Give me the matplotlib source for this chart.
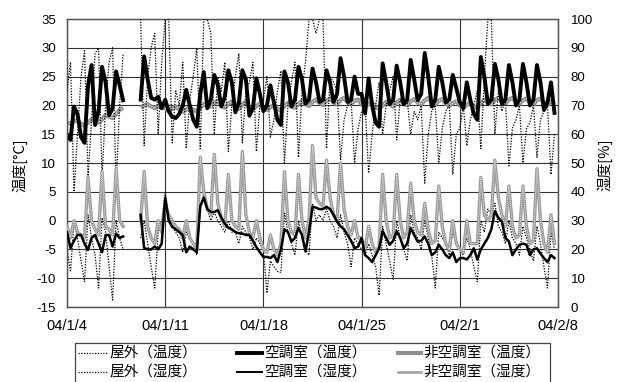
import numpy as np
import matplotlib

matplotlib.use("Agg")

import matplotlib.pyplot as plt
from matplotlib.lines import Line2D
from matplotlib.patches import Rectangle

nan = np.nan

# readings every 6 h (00, 06, 12, 18 h) from 2004-01-04, one row per day
# 屋外（温度） [°C]
outdoor_temp = [
    [-4.8, -8.9, -0.2, -3.0], [-7.0, -10.6, 1.0, -3.0], [-6.0, -11.7, 0.5, -2.0],
    [-8.0, -13.8, 0.0, -3.0], [-5.0, nan, nan, nan], [nan, -3.0, 0.0, -4.0],
    [-8.0, -11.7, -2.0, 0.0], [4.8, 1.0, -1.0, -2.0], [-3.0, -5.5, -2.0, -3.0],
    [-4.0, -6.0, 2.0, 4.8], [2.0, 0.0, 1.5, 0.0], [-1.0, -2.0, 0.0, -2.0],
    [-2.0, -4.0, -1.0, -2.0], [-3.0, -5.0, -3.0, -4.0], [-5.0, -12.6, -7.0, -8.0],
    [-8.8, -9.0, 1.3, -2.0], [-4.0, -6.0, 0.0, -3.0], [-5.0, -6.0, 3.0, 0.0],
    [1.0, 0.0, 2.0, 0.0], [-1.0, -3.0, 1.0, -2.0], [-4.0, -8.0, -3.0, -4.0],
    [-5.0, -6.0, -4.0, -6.0], [-8.0, -13.0, -1.0, -4.0], [-7.0, -10.3, 0.0, -3.0],
    [-5.0, -7.0, 1.0, -2.0], [-3.0, -5.0, 0.0, -3.0], [-6.0, -11.7, -2.0, -3.0],
    [-4.0, -6.0, -2.0, -4.0], [-5.0, -6.0, -3.0, -5.0], [-8.0, -10.6, 0.0, -2.0],
    [2.0, 1.0, 3.0, -1.0], [-2.0, -4.0, 0.0, -3.0], [-4.0, -6.0, -1.0, -3.0],
    [-5.0, -7.0, -1.0, -4.0], [-8.0, -11.7, -2.0, -5.0],
]
# 空調室（温度） [°C]
ac_temp = [
    [15.0, 14.0, 19.8, 18.5], [14.5, 13.5, 23.5, 27.0], [16.6, 19.0, 26.7, 24.0],
    [18.3, 19.5, 25.9, 23.5], [20.9, nan, nan, nan], [nan, 21.0, 28.5, 24.5],
    [21.3, 21.0, 21.5, 19.5], [21.0, 19.0, 18.0, 17.8], [18.5, 20.0, 22.7, 20.0],
    [17.5, 16.3, 22.0, 25.8], [19.5, 21.0, 25.3, 23.5], [19.8, 21.5, 26.1, 24.0],
    [18.8, 20.5, 26.1, 24.5], [18.2, 19.5, 24.7, 22.0], [19.0, 20.0, 23.5, 20.5],
    [17.5, 16.6, 25.9, 24.0], [19.8, 21.0, 26.7, 24.5], [20.3, 21.0, 26.4, 24.0],
    [20.6, 21.0, 26.1, 24.0], [20.6, 22.0, 28.2, 25.0], [20.6, 21.0, 25.0, 22.0],
    [22.0, 18.6, 24.7, 20.0], [17.0, 16.3, 27.3, 24.0], [20.2, 21.0, 26.9, 24.0],
    [20.2, 21.0, 27.9, 24.5], [20.9, 22.0, 29.1, 25.0], [19.8, 21.0, 26.7, 24.0],
    [20.5, 21.0, 25.3, 23.0], [20.6, 19.5, 24.0, 21.0], [18.5, 17.5, 28.4, 25.0],
    [20.3, 21.0, 27.2, 24.5], [20.3, 21.0, 27.0, 24.0], [20.0, 21.0, 27.2, 24.0],
    [20.0, 21.0, 27.0, 24.0], [19.2, 20.5, 24.0, 18.7],
]
# 非空調室（温度） [°C]
room_temp = [
    [17.0, 16.8, 17.2, 17.4], [16.8, 16.5, 17.0, 17.6], [17.3, 17.0, 17.6, 18.3],
    [18.0, 17.8, 18.5, 19.2], [19.6, nan, nan, nan], [nan, 19.6, 20.0, 20.2],
    [19.8, 19.5, 19.9, 20.2], [19.5, 19.0, 19.4, 19.8], [19.3, 18.9, 19.3, 19.7],
    [19.2, 19.0, 19.6, 20.2], [20.0, 19.8, 20.4, 20.8], [20.0, 19.6, 20.3, 20.7],
    [19.8, 19.4, 20.2, 20.6], [19.6, 19.3, 19.9, 20.3], [19.5, 19.2, 19.7, 20.1],
    [19.4, 19.1, 19.9, 20.4], [19.8, 19.6, 20.3, 20.8], [20.2, 19.9, 20.6, 21.0],
    [20.4, 20.1, 20.8, 21.2], [20.5, 20.2, 20.9, 21.3], [20.6, 20.3, 20.8, 21.0],
    [20.2, 19.8, 20.2, 20.5], [19.7, 19.4, 20.0, 20.6], [20.2, 19.8, 20.5, 21.0],
    [20.4, 20.0, 20.7, 21.1], [20.5, 20.2, 20.9, 21.3], [20.5, 20.2, 20.8, 21.1],
    [20.3, 19.9, 20.4, 20.7], [20.0, 19.6, 20.1, 20.5], [19.8, 19.6, 20.4, 21.0],
    [20.5, 20.2, 20.9, 21.3], [20.6, 20.3, 21.0, 21.3], [20.6, 20.3, 20.9, 21.2],
    [20.5, 20.2, 20.9, 21.2], [20.5, 20.1, 20.7, 20.4],
]
# 屋外（湿度） [%]
outdoor_rh = [
    [75, 85, 40, 60], [80, 89, 45, 65], [88, 90, 45, 70], [85, 90, 42, 70],
    [88, nan, nan, nan], [nan, 100, 56, 80], [90, 95, 60, 85], [100, 100, 57, 75],
    [70, 85, 55, 72], [80, 90, 55, 100], [100, 95, 60, 80], [75, 85, 54, 70],
    [80, 88, 57, 75], [78, 85, 54, 70], [72, 80, 59, 65], [75, 82, 50, 70],
    [78, 85, 52, 75], [85, 100, 100, 95], [100, 100, 55, 80], [78, 75, 51, 65],
    [70, 72, 50, 62], [68, 70, 46.5, 60], [70, 78, 60, 70], [75, 80, 58, 72],
    [70, 72, 60, 68], [65, 70, 43, 60], [68, 70, 50, 62], [68, 70, 46, 60],
    [62, 70, 56, 65], [70, 75, 55, 80], [100, 100, 60, 75], [68, 72, 49, 62],
    [65, 70, 50, 62], [64, 70, 52, 65], [68, 70, 46, 60],
]
# 空調室（湿度） [%]
ac_rh = [
    [26, 20.5, 23, 25], [25, 22, 19.8, 24], [25, 22, 19, 25], [25, 21, 25.5, 24],
    [24.5, nan, nan, nan], [nan, 32, 20.5, 20], [20, 21, 20, 22], [38, 30, 27.8, 27],
    [26, 25, 19, 21], [20, 19, 35, 38], [34, 33, 33, 33.6], [31, 29, 27.5, 27],
    [26, 25.6, 25.5, 25], [25, 23, 20.8, 19], [17.4, 17.4, 17, 18], [15.6, 20, 27, 26],
    [22.7, 24, 27.4, 25], [19.3, 26, 34.8, 34.5], [34, 34, 34.8, 34], [32, 29.6, 28, 27],
    [25, 23, 20.4, 21], [24, 18, 17, 15.6], [18, 20.4, 26.3, 24], [21.6, 23, 26.3, 24],
    [20.4, 22, 27.4, 25], [22.7, 23, 24.5, 22], [18, 19, 21.6, 20], [18, 17, 19, 15.6],
    [17, 17, 16.5, 18], [20.4, 16.5, 20, 22], [24, 27, 33.3, 31], [29.6, 24, 22.8, 18],
    [20, 21.6, 22, 21.6], [18, 20, 20.4, 18.5], [17, 15.6, 18, 17],
]
# 非空調室（湿度） [%]
room_rh = [
    [28, 24, 30, 26], [25, 24, 45, 30], [27, 25, 47, 28], [27, 25, 48, 30],
    [28, nan, nan, nan], [nan, 30, 47, 28], [24, 22, 30, 26], [36, 32, 30, 28],
    [27, 24, 30, 24], [22, 20, 52, 40], [34, 32, 53, 36], [31, 28, 46, 30],
    [28, 27, 54, 32], [26, 24, 30, 24], [20, 19, 25, 20], [18, 22, 47, 30],
    [26, 25, 46, 30], [24, 30, 56, 38], [36, 35, 51, 38], [32, 30, 50, 34],
    [28, 25, 30, 24], [24, 20, 28, 22], [19, 21, 46, 30], [24, 25, 46, 30],
    [24, 26, 43, 30], [26, 25, 36, 27], [22, 23, 42, 28], [22, 20, 30, 22],
    [20, 19, 30, 22], [22, 22, 45, 32], [30, 32, 51, 38], [32, 28, 42, 28],
    [24, 25, 42, 28], [22, 23, 48, 30], [22, 19, 32, 22],
]

date_ticks = [0, 7, 14, 21, 28, 35]
date_labels = ["04/1/4", "04/1/11", "04/1/18", "04/1/25", "04/2/1", "04/2/8"]

JP = ["Noto Sans CJK JP", "DejaVu Sans"]
plt.rcParams["font.family"] = ["Liberation Sans", "DejaVu Sans"]
plt.rcParams["axes.unicode_minus"] = False

W, H = 618, 382
fig = plt.figure(figsize=(W / 100, H / 100), dpi=100, facecolor="white")
ax = fig.add_axes([67 / W, 1 - 307 / H, 491 / W, 288 / H])
ax2 = ax.twinx()

t = np.arange(len(outdoor_temp) * 4) * 0.25
flat = lambda rows: np.ravel(np.array(rows, dtype=float))

DOT = dict(color="black", lw=0.9, linestyle=(0, (1, 1.2)))
GRAY = "#8f8f8f"

# temperature (left axis)
ax.plot(t, flat(outdoor_temp), **DOT, zorder=3)
ax.plot(t, flat(room_temp), color=GRAY, lw=3.0, zorder=3, solid_capstyle="butt")
ax.plot(t, flat(room_temp), color="white", lw=0.7, linestyle=(0, (1, 1.5)), zorder=3)
ax.plot(t, flat(ac_temp), color="black", lw=2.8, zorder=4)

# humidity (right axis)
ax2.plot(t, flat(outdoor_rh), **DOT, zorder=3)
ax2.plot(t, flat(room_rh), color="#9c9c9c", lw=2.4, zorder=3)
ax2.plot(t, flat(room_rh), color="white", lw=0.6, linestyle=(0, (1, 1.5)), zorder=3)
ax2.plot(t, flat(ac_rh), color="black", lw=1.8, zorder=4)

ax.set_xlim(0, 35)
ax.set_ylim(-15, 35)
ax2.set_ylim(0, 100)
ax.set_yticks(range(-15, 36, 5))
ax2.set_yticks(range(0, 101, 10))
ax.set_xticks(date_ticks)
ax.set_xticklabels(date_labels)

ax.grid(True, color="#333333", lw=0.8)
ax.set_axisbelow(True)
for a in (ax, ax2):
    for s in a.spines.values():
        s.set_color("#555555")
        s.set_linewidth(0.9)
ax.tick_params(axis="y", length=0, pad=8, labelsize=9.5)
ax.tick_params(axis="x", length=0, pad=9, labelsize=10.5)
ax2.tick_params(axis="y", length=0, pad=9, labelsize=9.5)

fig.text(20 / W, 1 - 165 / H, "温度[°C]", rotation=90, ha="center", va="center",
         fontsize=10.5, family=JP)
fig.text(605 / W, 1 - 165 / H, "湿度[%]", rotation=90, ha="center", va="center",
         fontsize=10.5, family=JP)

# legend drawn by hand (columns are not evenly spaced)
fig.add_artist(Rectangle((75 / W, -0.02), (550 - 75) / W, 0.02 + 1 - 343 / H,
                         transform=fig.transFigure, fill=False, ec="#444444", lw=0.9))
entries = [
    (78, 107, 353, "屋外（温度）", DOT),
    (78, 107, 372, "屋外（湿度）", DOT),
    (237, 262, 353, "空調室（温度）", dict(color="black", lw=2.8)),
    (237, 262, 372, "空調室（湿度）", dict(color="black", lw=1.4)),
    (398, 421, 353, "非空調室（温度）", dict(color=GRAY, lw=3.0)),
    (398, 421, 372, "非空調室（湿度）", dict(color="#a0a0a0", lw=1.8)),
]
for x0, x1, y, label, style in entries:
    fy = 1 - y / H
    fig.add_artist(Line2D([x0 / W, x1 / W], [fy, fy], transform=fig.transFigure, **style))
    fig.text((x1 + 2) / W, fy, label, ha="left", va="center", fontsize=10.5, family=JP)

fig.savefig("out.png", dpi=100, facecolor="white")
